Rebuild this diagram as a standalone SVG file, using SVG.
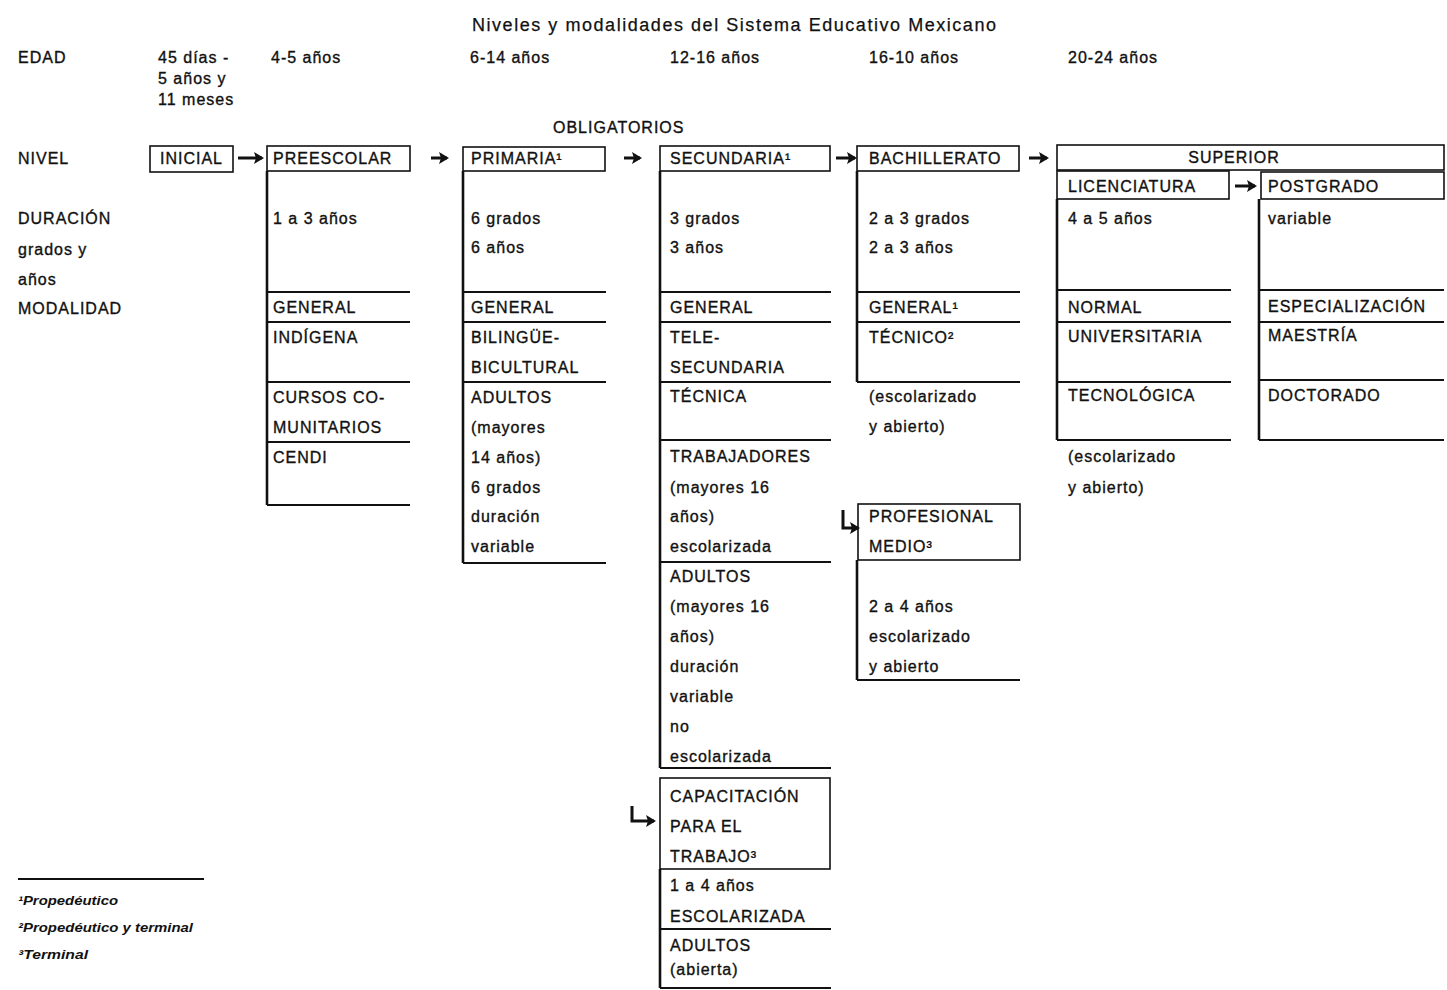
<svg xmlns="http://www.w3.org/2000/svg" width="1447" height="990" viewBox="0 0 1447 990">
<defs>
<style>
text{font-family:"Liberation Sans",Arial,sans-serif;font-size:16px;letter-spacing:1px;fill:#111;stroke:#111;stroke-width:0.35px}
.title{font-size:18px;stroke-width:0.25px}
.fn{font-size:13px;font-style:italic;font-weight:bold;letter-spacing:0;stroke-width:0}
.box{fill:none;stroke:#111;stroke-width:1.6}
.v{stroke:#111;stroke-width:2.6;fill:none}
.h{stroke:#111;stroke-width:2.2;fill:none}
.arr{stroke:#111;stroke-width:3;fill:none}
</style>
<marker id="ah" viewBox="0 0 12 12" refX="10" refY="6" markerWidth="12" markerHeight="12" markerUnits="userSpaceOnUse" orient="auto">
<path d="M2,0 L12,6 L2,12 L4,6 Z" fill="#111"/>
</marker>
</defs>
<rect width="1447" height="990" fill="#fff"/>

<g id="header">
<text class="title" x="472" y="31" textLength="525" lengthAdjust="spacing">Niveles y modalidades del Sistema Educativo Mexicano</text>
<text x="18" y="63">EDAD</text>
<text x="158" y="63">45 días -</text>
<text x="158" y="84">5 años y</text>
<text x="158" y="105">11 meses</text>
<text x="271" y="63">4-5 años</text>
<text x="470" y="63">6-14 años</text>
<text x="670" y="63">12-16 años</text>
<text x="869" y="63">16-10 años</text>
<text x="1068" y="63">20-24 años</text>
<text x="553" y="133">OBLIGATORIOS</text>
<text x="18" y="164">NIVEL</text>
<text x="18" y="224">DURACIÓN</text>
<text x="18" y="255">grados y</text>
<text x="18" y="285">años</text>
<text x="18" y="314">MODALIDAD</text>
</g>

<g id="inicial">
<rect class="box" x="150" y="146" width="83" height="26"/>
<text x="160" y="164">INICIAL</text>
</g>

<g id="preescolar">
<rect class="box" x="267" y="146" width="143" height="25"/>
<text x="273" y="164">PREESCOLAR</text>
<path class="v" d="M267,171 V505"/>
<path class="h" d="M267,292 H410 M267,322 H410 M267,382 H410 M267,442 H410 M267,505 H410"/>
<text x="273" y="224">1 a 3 años</text>
<text x="273" y="313">GENERAL</text>
<text x="273" y="343">INDÍGENA</text>
<text x="273" y="403">CURSOS CO-</text>
<text x="273" y="433">MUNITARIOS</text>
<text x="273" y="463">CENDI</text>
</g>

<g id="primaria">
<rect class="box" x="463" y="147" width="142" height="24"/>
<text x="471" y="164">PRIMARIA¹</text>
<path class="v" d="M463,171 V563"/>
<path class="h" d="M463,292 H606 M463,322 H606 M463,382 H606 M463,563 H606"/>
<text x="471" y="224">6 grados</text>
<text x="471" y="253">6 años</text>
<text x="471" y="313">GENERAL</text>
<text x="471" y="343">BILINGÜE-</text>
<text x="471" y="373">BICULTURAL</text>
<text x="471" y="403">ADULTOS</text>
<text x="471" y="433">(mayores</text>
<text x="471" y="463">14 años)</text>
<text x="471" y="493">6 grados</text>
<text x="471" y="522">duración</text>
<text x="471" y="552">variable</text>
</g>

<g id="secundaria">
<rect class="box" x="660" y="146" width="170" height="25"/>
<text x="670" y="164">SECUNDARIA¹</text>
<path class="v" d="M660,171 V768"/>
<path class="h" d="M660,292 H831 M660,322 H831 M660,382 H831 M660,440 H831 M660,562 H831 M660,768 H831"/>
<text x="670" y="224">3 grados</text>
<text x="670" y="253">3 años</text>
<text x="670" y="313">GENERAL</text>
<text x="670" y="343">TELE-</text>
<text x="670" y="373">SECUNDARIA</text>
<text x="670" y="402">TÉCNICA</text>
<text x="670" y="462">TRABAJADORES</text>
<text x="670" y="493">(mayores 16</text>
<text x="670" y="522">años)</text>
<text x="670" y="552">escolarizada</text>
<text x="670" y="582">ADULTOS</text>
<text x="670" y="612">(mayores 16</text>
<text x="670" y="642">años)</text>
<text x="670" y="672">duración</text>
<text x="670" y="702">variable</text>
<text x="670" y="732">no</text>
<text x="670" y="762">escolarizada</text>
</g>

<g id="capacitacion">
<rect class="box" x="660" y="778" width="170" height="91"/>
<text x="670" y="802">CAPACITACIÓN</text>
<text x="670" y="832">PARA EL</text>
<text x="670" y="862">TRABAJO³</text>
<path class="v" d="M660,869 V988"/>
<path class="h" d="M660,929 H831 M660,988 H831"/>
<text x="670" y="891">1 a 4 años</text>
<text x="670" y="922">ESCOLARIZADA</text>
<text x="670" y="951">ADULTOS</text>
<text x="670" y="975">(abierta)</text>
</g>

<g id="bachillerato">
<rect class="box" x="857" y="146" width="162" height="25"/>
<text x="869" y="164">BACHILLERATO</text>
<path class="v" d="M857,171 V382"/>
<path class="h" d="M857,292 H1020 M857,322 H1020 M857,382 H1020"/>
<text x="869" y="224">2 a 3 grados</text>
<text x="869" y="253">2 a 3 años</text>
<text x="869" y="313">GENERAL¹</text>
<text x="869" y="343">TÉCNICO²</text>
<text x="869" y="402">(escolarizado</text>
<text x="869" y="432">y abierto)</text>
</g>

<g id="profesional-medio">
<rect class="box" x="858" y="504" width="162" height="56"/>
<text x="869" y="522">PROFESIONAL</text>
<text x="869" y="552">MEDIO³</text>
<path class="v" d="M857,560 V680"/>
<path class="h" d="M857,680 H1020"/>
<text x="869" y="612">2 a 4 años</text>
<text x="869" y="642">escolarizado</text>
<text x="869" y="672">y abierto</text>
</g>

<g id="superior">
<rect class="box" x="1057" y="145" width="387" height="25"/>
<text x="1234" y="163" text-anchor="middle">SUPERIOR</text>
</g>

<g id="licenciatura">
<rect class="box" x="1057" y="171" width="172" height="28"/>
<text x="1068" y="192">LICENCIATURA</text>
<path class="v" d="M1057,199 V440"/>
<path class="h" d="M1057,290 H1231 M1057,322 H1231 M1057,382 H1231 M1057,440 H1231"/>
<text x="1068" y="224">4 a 5 años</text>
<text x="1068" y="313">NORMAL</text>
<text x="1068" y="342">UNIVERSITARIA</text>
<text x="1068" y="401">TECNOLÓGICA</text>
<text x="1068" y="462">(escolarizado</text>
<text x="1068" y="493">y abierto)</text>
</g>

<g id="postgrado">
<rect class="box" x="1261" y="172" width="183" height="27"/>
<text x="1268" y="192">POSTGRADO</text>
<path class="v" d="M1259,199 V440"/>
<path class="h" d="M1259,290 H1444 M1259,322 H1444 M1259,380 H1444 M1259,440 H1444"/>
<text x="1268" y="224">variable</text>
<text x="1268" y="312">ESPECIALIZACIÓN</text>
<text x="1268" y="341">MAESTRÍA</text>
<text x="1268" y="401">DOCTORADO</text>
</g>

<g id="connectors">
<path class="arr" d="M238,158 H262" marker-end="url(#ah)"/>
<path class="arr" d="M431,158 H447" marker-end="url(#ah)"/>
<path class="arr" d="M624,158 H640" marker-end="url(#ah)"/>
<path class="arr" d="M836,158 H855" marker-end="url(#ah)"/>
<path class="arr" d="M1029,158 H1047" marker-end="url(#ah)"/>
<path class="arr" d="M1235,186 H1255" marker-end="url(#ah)"/>
<path class="arr" d="M632,806 V821 H654" marker-end="url(#ah)"/>
<path class="arr" d="M843,510 V528 H858" marker-end="url(#ah)"/>
</g>

<g id="footnotes">
<path class="h" d="M18,879 H204"/>
<text class="fn" x="18" y="905" textLength="100" lengthAdjust="spacingAndGlyphs">¹Propedéutico</text>
<text class="fn" x="18" y="932" textLength="175" lengthAdjust="spacingAndGlyphs">²Propedéutico y terminal</text>
<text class="fn" x="18" y="959" textLength="70" lengthAdjust="spacingAndGlyphs">³Terminal</text>
</g>
</svg>
